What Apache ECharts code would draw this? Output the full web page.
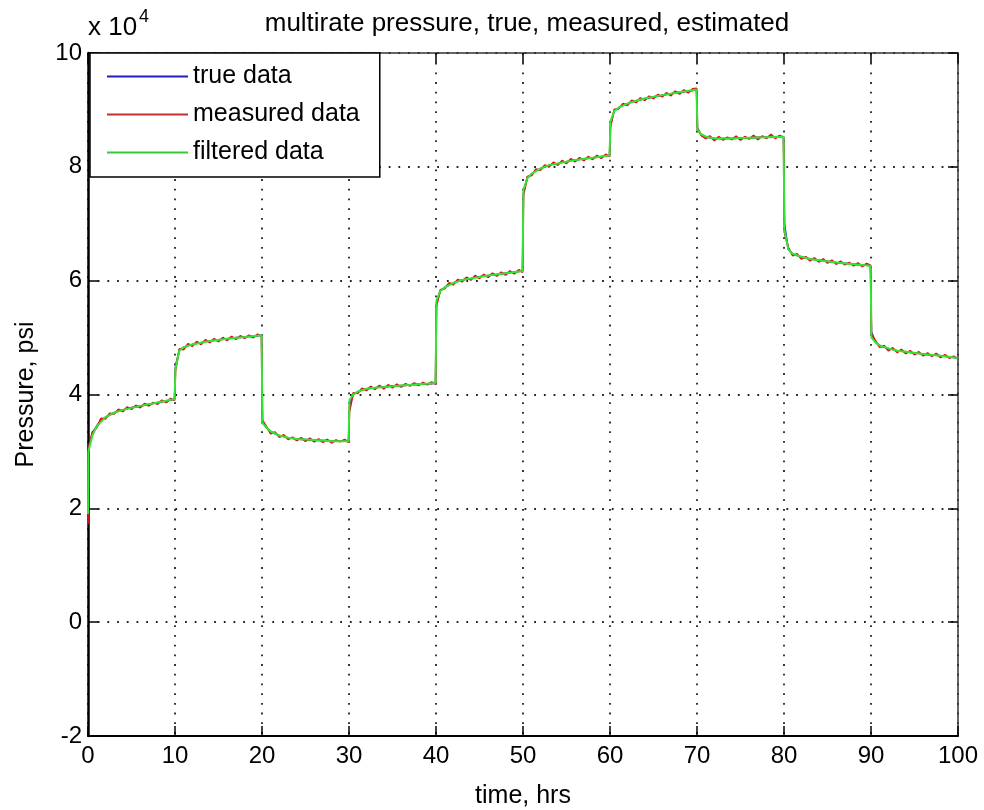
<!DOCTYPE html>
<html>
<head>
<meta charset="utf-8">
<script src="https://cdn.jsdelivr.net/npm/echarts@6/dist/echarts.min.js"></script>
<style>html,body{margin:0;padding:0;background:#fff}#c{width:984px;height:810px}</style>
</head>
<body>
<div id="c"></div>
<script>
// ---- data (pressure in units of 1e4 psi, time in hours) ----
const seriesNames = ['true data', 'measured data', 'filtered data'];
const xTicks = [0, 10, 20, 30, 40, 50, 60, 70, 80, 90, 100];
const yTicks = [-2, 0, 2, 4, 6, 8, 10];
const segmentStarts = [0, 10, 20, 30, 40, 50, 60, 70, 80, 90];
const sampleOffsets = [0.05, 0.5, 1, 1.5, 2, 2.5, 3, 3.5, 4, 4.5, 5, 5.5, 6, 6.5, 7, 7.5, 8, 8.5, 9, 9.5, 9.95];
const filterOffsets = [0.05, 0.5, 1, 2, 3, 4, 6, 8, 9.95];
const trueStart = 1.75;
const measuredStart = 1.72;
const filteredStart = 1.9;

const trueSeg = [
  [3.10, 3.30, 3.45, 3.54, 3.60, 3.64, 3.68, 3.71, 3.73, 3.75, 3.77, 3.78, 3.80, 3.81, 3.83, 3.84, 3.86, 3.87, 3.89, 3.90, 3.92],
  [4.50, 4.78, 4.83, 4.86, 4.88, 4.90, 4.91, 4.93, 4.94, 4.95, 4.96, 4.97, 4.98, 4.99, 5.00, 5.00, 5.01, 5.02, 5.02, 5.03, 5.04],
  [3.52, 3.42, 3.35, 3.31, 3.28, 3.26, 3.24, 3.23, 3.22, 3.21, 3.21, 3.20, 3.20, 3.19, 3.19, 3.19, 3.18, 3.18, 3.18, 3.18, 3.18],
  [3.80, 4.00, 4.05, 4.08, 4.10, 4.11, 4.12, 4.13, 4.13, 4.14, 4.15, 4.15, 4.16, 4.16, 4.17, 4.17, 4.18, 4.18, 4.19, 4.19, 4.20],
  [5.60, 5.82, 5.88, 5.93, 5.96, 5.99, 6.01, 6.03, 6.04, 6.06, 6.07, 6.08, 6.09, 6.10, 6.11, 6.12, 6.13, 6.14, 6.15, 6.16, 6.17],
  [7.55, 7.80, 7.88, 7.93, 7.97, 8.00, 8.03, 8.05, 8.06, 8.08, 8.09, 8.11, 8.12, 8.13, 8.14, 8.15, 8.16, 8.17, 8.18, 8.19, 8.20],
  [8.75, 8.98, 9.04, 9.08, 9.11, 9.14, 9.16, 9.18, 9.20, 9.21, 9.23, 9.24, 9.26, 9.27, 9.28, 9.30, 9.31, 9.32, 9.33, 9.34, 9.36],
  [8.65, 8.57, 8.53, 8.51, 8.50, 8.50, 8.50, 8.50, 8.50, 8.50, 8.51, 8.51, 8.51, 8.51, 8.52, 8.52, 8.52, 8.52, 8.53, 8.53, 8.53],
  [7.00, 6.55, 6.47, 6.44, 6.42, 6.40, 6.38, 6.37, 6.36, 6.35, 6.34, 6.33, 6.32, 6.31, 6.30, 6.30, 6.29, 6.28, 6.28, 6.27, 6.26],
  [5.10, 4.92, 4.86, 4.83, 4.81, 4.79, 4.77, 4.76, 4.75, 4.74, 4.73, 4.72, 4.71, 4.70, 4.69, 4.69, 4.68, 4.67, 4.66, 4.65, 4.64]
];

const measuredSeg = [
  [3.05, 3.34, 3.42, 3.58, 3.57, 3.67, 3.66, 3.74, 3.70, 3.78, 3.74, 3.81, 3.77, 3.84, 3.80, 3.86, 3.83, 3.90, 3.86, 3.93, 3.90],
  [4.42, 4.80, 4.79, 4.89, 4.85, 4.93, 4.88, 4.96, 4.91, 4.98, 4.93, 5.00, 4.95, 5.02, 4.97, 5.03, 4.99, 5.04, 5.00, 5.06, 5.02],
  [3.55, 3.44, 3.31, 3.34, 3.25, 3.29, 3.21, 3.25, 3.19, 3.24, 3.18, 3.23, 3.17, 3.22, 3.16, 3.21, 3.15, 3.20, 3.17, 3.21, 3.16],
  [3.70, 4.03, 4.02, 4.11, 4.07, 4.14, 4.09, 4.16, 4.10, 4.17, 4.12, 4.18, 4.13, 4.19, 4.15, 4.20, 4.16, 4.21, 4.17, 4.22, 4.18],
  [5.55, 5.84, 5.86, 5.96, 5.93, 6.02, 5.98, 6.06, 6.01, 6.09, 6.04, 6.11, 6.06, 6.13, 6.08, 6.15, 6.10, 6.17, 6.12, 6.19, 6.15],
  [7.50, 7.83, 7.85, 7.96, 7.94, 8.03, 8.00, 8.08, 8.03, 8.11, 8.06, 8.14, 8.09, 8.16, 8.11, 8.18, 8.13, 8.20, 8.15, 8.22, 8.18],
  [8.70, 9.01, 9.02, 9.11, 9.08, 9.17, 9.13, 9.21, 9.17, 9.24, 9.20, 9.27, 9.23, 9.30, 9.25, 9.33, 9.28, 9.35, 9.30, 9.37, 9.38],
  [8.68, 8.55, 8.50, 8.54, 8.46, 8.53, 8.47, 8.52, 8.48, 8.54, 8.47, 8.53, 8.49, 8.55, 8.48, 8.54, 8.50, 8.57, 8.50, 8.55, 8.52],
  [6.85, 6.58, 6.44, 6.47, 6.38, 6.42, 6.35, 6.40, 6.33, 6.38, 6.31, 6.36, 6.29, 6.34, 6.28, 6.32, 6.26, 6.31, 6.25, 6.30, 6.27],
  [5.05, 4.95, 4.83, 4.86, 4.77, 4.82, 4.74, 4.79, 4.72, 4.77, 4.70, 4.75, 4.68, 4.73, 4.67, 4.72, 4.65, 4.70, 4.64, 4.67, 4.63]
];

const filteredSeg = [
  [3.00, 3.28, 3.44, 3.60, 3.68, 3.73, 3.80, 3.86, 3.92],
  [4.45, 4.77, 4.83, 4.88, 4.91, 4.94, 4.98, 5.01, 5.04],
  [3.50, 3.42, 3.35, 3.28, 3.24, 3.22, 3.20, 3.18, 3.18],
  [3.90, 4.00, 4.05, 4.10, 4.12, 4.13, 4.16, 4.18, 4.20],
  [5.65, 5.82, 5.88, 5.96, 6.01, 6.04, 6.09, 6.13, 6.17],
  [7.60, 7.80, 7.88, 7.97, 8.03, 8.06, 8.12, 8.16, 8.20],
  [8.80, 8.98, 9.04, 9.11, 9.16, 9.20, 9.26, 9.31, 9.36],
  [8.65, 8.57, 8.53, 8.50, 8.50, 8.50, 8.51, 8.52, 8.53],
  [6.90, 6.55, 6.47, 6.42, 6.38, 6.36, 6.32, 6.29, 6.26],
  [5.00, 4.92, 4.86, 4.81, 4.77, 4.75, 4.71, 4.68, 4.64]
];

function buildPairs(startVal, offsets, segs) {
  const out = [[0, startVal]];
  segmentStarts.forEach((s, i) => {
    offsets.forEach((o, j) => out.push([s + o, segs[i][j]]));
  });
  return out;
}
const trueData = buildPairs(trueStart, sampleOffsets, trueSeg);
const measuredData = buildPairs(measuredStart, sampleOffsets, measuredSeg);
const filteredData = buildPairs(filteredStart, filterOffsets, filteredSeg);

const FONT = 'Liberation Sans, Arial, Helvetica, sans-serif';
const chart = echarts.init(document.getElementById('c'), null, { renderer: 'canvas' });

const gridDots = { color: '#222', width: 1.8, type: [1.8, 7.9] };

chart.setOption({
  backgroundColor: '#fff',
  animation: false,
  title: {
    text: 'multirate pressure, true, measured, estimated',
    left: 522, top: 6, textAlign: 'center',
    textStyle: { fontFamily: FONT, fontSize: 26, fontWeight: 'normal', color: '#000' }
  },
  grid: { left: 88, right: 26, top: 53, bottom: 74, containLabel: false, outerBoundsMode: 'none' },
  legend: {
    data: seriesNames,
    orient: 'vertical',
    left: 90, top: 53,
    padding: [11, 20, 12, 17],
    itemGap: 13,
    itemWidth: 81, itemHeight: 2,
    icon: 'rect',
    backgroundColor: '#fff',
    borderColor: '#000', borderWidth: 1.5, borderRadius: 0,
    textStyle: { fontFamily: FONT, fontSize: 25, color: '#000' }
  },
  graphic: [
    { type: 'text', left: 88, top: 15, style: { text: 'x 10', fontFamily: FONT, fontSize: 26, fill: '#000' } },
    { type: 'text', left: 139, top: 8, style: { text: '4', fontFamily: FONT, fontSize: 18, fill: '#000' } }
  ],
  xAxis: [
    {
      type: 'value', min: 0, max: 100, interval: 10, position: 'bottom',
      name: 'time, hrs', nameLocation: 'middle', nameGap: 48,
      nameTextStyle: { fontFamily: FONT, fontSize: 25, color: '#000' },
      axisLine: { show: true, onZero: false, lineStyle: { color: '#000', width: 2 } },
      axisTick: { show: true, inside: true, length: 10, lineStyle: { color: '#000', width: 1.5 } },
      axisLabel: { fontFamily: FONT, fontSize: 24, color: '#000', margin: 8,
        formatter: v => xTicks.includes(v) ? String(v) : '' },
      splitLine: { show: true, lineStyle: gridDots }
    },
    {
      type: 'value', min: 0, max: 100, interval: 10, position: 'top',
      axisLine: { show: true, onZero: false, lineStyle: { color: '#333', width: 1.5 } },
      axisTick: { show: true, inside: true, length: 10, lineStyle: { color: '#000', width: 1.5 } },
      axisLabel: { show: false },
      splitLine: { show: false }
    }
  ],
  yAxis: [
    {
      type: 'value', min: -2, max: 10, interval: 2, position: 'left',
      name: 'Pressure, psi', nameLocation: 'middle', nameGap: 49,
      nameTextStyle: { fontFamily: FONT, fontSize: 25, color: '#000' },
      axisLine: { show: true, onZero: false, lineStyle: { color: '#000', width: 2.5 } },
      axisTick: { show: true, inside: true, length: 10, lineStyle: { color: '#000', width: 1.5 } },
      axisLabel: { fontFamily: FONT, fontSize: 24, color: '#000', margin: 6,
        formatter: v => yTicks.includes(v) ? String(v) : '' },
      splitLine: { show: true, lineStyle: gridDots }
    },
    {
      type: 'value', min: -2, max: 10, interval: 2, position: 'right',
      axisLine: { show: true, onZero: false, lineStyle: { color: '#333', width: 1.5 } },
      axisTick: { show: true, inside: true, length: 10, lineStyle: { color: '#000', width: 1.5 } },
      axisLabel: { show: false },
      splitLine: { show: false }
    }
  ],
  series: [
    { name: seriesNames[0], type: 'line', data: trueData, showSymbol: false, symbol: 'none',
      lineStyle: { color: '#0000ff', width: 1.5 }, itemStyle: { color: '#2020c0' }, z: 2 },
    { name: seriesNames[1], type: 'line', data: measuredData, showSymbol: false, symbol: 'none',
      lineStyle: { color: '#e01010', width: 1.8 }, itemStyle: { color: '#c03030' }, z: 3 },
    { name: seriesNames[2], type: 'line', data: filteredData, showSymbol: false, symbol: 'none',
      lineStyle: { color: '#33e633', width: 2 }, itemStyle: { color: '#33cc33' }, z: 4 }
  ]
});
</script>
</body>
</html>
